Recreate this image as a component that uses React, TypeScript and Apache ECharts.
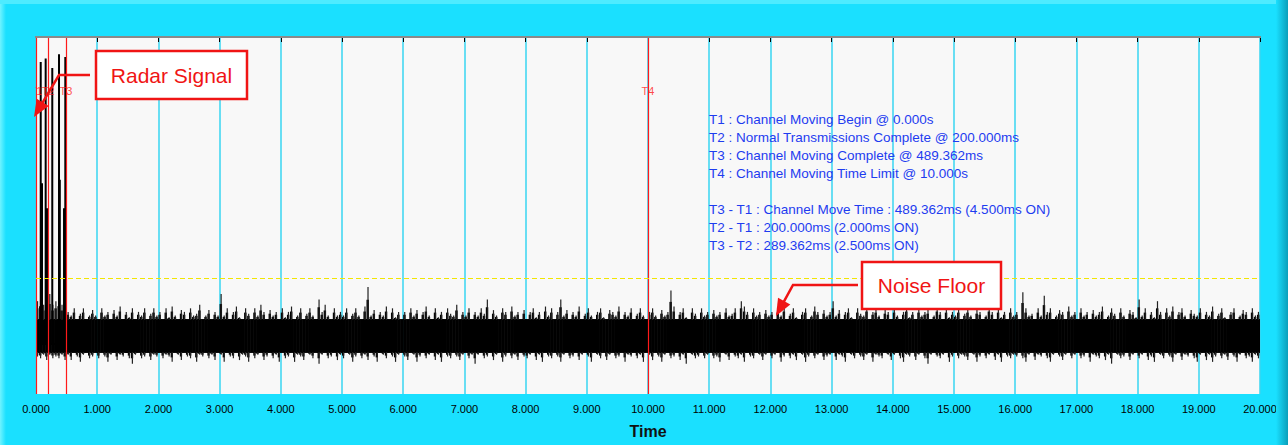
import React, { useEffect, useRef } from "react";
import * as echarts from "echarts";

// Trace window: 0 .. 20 s, amplitude in dBm
const X_MIN = 0;
const X_MAX = 20;
const Y_MIN = -100;
const Y_MAX = 0;

// Event markers
const markerNames = ["T1", "T2", "T3", "T4"];
const markerTimes = [0, 0.2, 0.489362, 10];
const markerLabelLevel = -15;

// Detection threshold (dashed yellow)
const thresholdLevel = -67.5;

// Radar bursts at the start of the capture
const pulseTimes = [0.077, 0.098, 0.158, 0.188, 0.266, 0.376, 0.389, 0.458, 0.479];
const pulsePeaks = [-7, -41, -6, -48, -8.7, -4.8, -40, -48, -5.6];
const pulseBase = -86;

// Dense part of the noise floor
const noiseBodyTop = -79;
const noiseBodyBottom = -88.5;

// Noise floor peaks, one sample every 50 ms
const NOISE_STEP = 0.05;
const noiseTop = [
  -74, -73, -75, -74, -72, -75, -74, -73, -75, -74, -77, -78, -76, -79, -77.5, -76, -79, -78, -76.5, -78,
  -79, -76, -78, -77, -80, -76.5, -78, -75.5, -79, -77, -78.5, -76, -79.5, -77, -78, -76, -80, -77.5, -76, -78,
  -77, -79, -76, -78.5, -75.5, -78, -80, -76.5, -77, -79, -76, -78, -77.5, -75, -79, -78, -76.5, -79.5, -77, -78,
  -72, -78, -76, -79, -77, -75.5, -78.5, -80, -76, -77.5, -79, -76, -78, -75, -77, -79.5, -76.5, -78, -77, -79,
  -76, -78.5, -77, -75.5, -79, -78, -76, -80, -77.5, -76, -78, -79, -73.5, -77, -75, -78, -79.5, -76, -78, -77,
  -78, -76, -79, -77.5, -76, -78, -80, -75.5, -70, -78, -76.5, -79, -77, -78, -75.5, -79, -76, -78.5, -77, -79.5,
  -77, -79, -76, -78, -76.5, -79.5, -77, -75.5, -78, -80, -76, -78.5, -77, -79, -76, -77.5, -78, -75, -79, -77,
  -78, -76, -79.5, -77, -78, -76, -77.5, -73.5, -79, -76.5, -78, -80, -76, -77, -79, -75.5, -78, -77, -79, -76.5,
  -79, -77, -76, -78.5, -77, -79, -75.5, -78, -76, -80, -77, -73.5, -78, -76.5, -79, -77, -78, -75.5, -79, -77.5,
  -76, -78, -79.5, -77, -76, -78.5, -79, -76.5, -77, -78, -75.5, -79, -77, -78, -76, -79.5, -77.5, -76, -78, -79,
  -77, -76, -78, -79, -76.5, -78, -77, -71, -75.5, -79, -77, -76, -78.5, -80, -76, -77.5, -79, -76, -78, -77,
  -79, -76.5, -78, -77, -79.5, -76, -78, -77.5, -76, -79, -74, -75.5, -77, -79, -76, -78, -77, -80, -76.5, -78,
  -77, -79, -76, -78, -75.5, -79, -77.5, -76, -78.5, -80, -77, -76, -79, -78, -75.5, -77, -79, -76.5, -78, -77,
  -74, -78, -76.5, -79, -77, -76, -78.5, -79.5, -76, -77.5, -78, -75.5, -79, -77, -76, -78, -80, -76.5, -77, -79,
  -76, -78, -79, -77, -75.5, -78.5, -77, -79.5, -76, -78, -77, -76.5, -79, -78, -75.5, -77, -79, -76, -78.5, -77,
  -78, -76, -79, -77.5, -76, -78, -80, -76.5, -77, -79, -78, -75.5, -77, -79, -76, -78.5, -77, -79.5, -76, -78,
  -77, -79, -71.5, -76, -78, -77.5, -79, -76, -78, -72.5, -77, -76, -79.5, -78, -76.5, -77, -79, -75.5, -78, -77,
  -79, -76, -78, -77, -79.5, -76.5, -78, -77, -75.5, -79, -78, -76, -77.5, -79, -76, -78, -80, -76.5, -77, -78.5,
  -73.5, -78, -76, -79, -77, -78.5, -74, -77, -79, -76, -78, -75.5, -79.5, -77, -76, -78, -79, -76.5, -77.5, -78,
  -76, -79, -77, -78, -75.5, -79, -77.5, -76, -78.5, -80, -77, -76, -79, -78, -76.5, -77, -79.5, -76, -78, -77,
];
const noiseBottom = [
  -89.5, -90, -89, -90.5, -89, -90, -89.5, -90, -89, -90.5, -89, -90.5, -88.5, -89.5, -91, -89, -88.5, -90, -89.5, -88.5,
  -90, -88.5, -89.5, -91, -89, -88, -90.5, -89, -89.5, -88.5, -90, -91.5, -89, -88.5, -90, -89.5, -88, -90.5, -89, -89.5,
  -88.5, -90, -89, -89.5, -91, -88.5, -89, -90.5, -88, -89.5, -90, -88.5, -91, -89, -89.5, -88.5, -90, -89, -90.5, -88.5,
  -89, -91, -88.5, -89.5, -90, -88, -90.5, -89, -89.5, -91, -88.5, -90, -89, -88.5, -90.5, -89.5, -88, -90, -89, -91,
  -88.5, -90, -89.5, -88, -91, -89, -89.5, -90.5, -88.5, -89, -90, -88.5, -91.5, -89, -88.5, -90, -89.5, -88, -90.5, -89,
  -90, -88.5, -89, -91, -89.5, -88, -90, -89, -90.5, -88.5, -89.5, -91, -88.5, -89, -90, -88.5, -89.5, -91, -89, -88.5,
  -89.5, -90.5, -88.5, -89, -91, -89.5, -88, -90, -89, -88.5, -90.5, -89, -91, -88.5, -89.5, -90, -88, -89.5, -90.5, -89,
  -88.5, -90, -89, -91.5, -89, -88.5, -90, -89.5, -88, -90.5, -89, -88.5, -91, -89.5, -88.5, -90, -89, -90.5, -88.5, -89.5,
  -90, -89, -88.5, -90.5, -89, -91, -88.5, -89.5, -90, -88, -89.5, -91, -89, -88.5, -90, -89.5, -88.5, -90.5, -89, -88.5,
  -89.5, -91, -88.5, -89, -90, -88.5, -90.5, -89, -88, -90, -89.5, -88.5, -91, -89, -89.5, -88.5, -90, -89, -91, -88.5,
  -89, -90.5, -88.5, -89.5, -91, -89, -88, -90, -89.5, -88.5, -90.5, -89, -91.5, -88.5, -89, -90, -89.5, -88.5, -90, -89,
  -88.5, -90, -89.5, -91, -88.5, -89, -90.5, -88, -89.5, -90, -89, -91, -88.5, -89.5, -90, -88.5, -89, -90.5, -89, -88.5,
  -90, -89, -88.5, -91, -89.5, -88, -90, -89, -90.5, -88.5, -89, -91, -89.5, -88.5, -90, -89, -88, -90.5, -89.5, -89,
  -88.5, -90.5, -89, -89.5, -91, -88.5, -89, -90, -88, -89.5, -90.5, -89, -88.5, -91, -89, -89.5, -90, -88.5, -89, -90.5,
  -89, -88.5, -90, -91, -89, -89.5, -88, -90.5, -89, -88.5, -90, -91.5, -89, -88.5, -89.5, -90, -89, -88.5, -91, -89.5,
  -88.5, -90, -89, -89.5, -90.5, -88, -89, -91, -89.5, -88.5, -90, -89, -88.5, -90.5, -89, -91, -88.5, -89.5, -90, -89,
  -89.5, -88.5, -90, -91, -89, -88.5, -90.5, -89, -89.5, -88, -90, -91, -89, -88.5, -89.5, -90.5, -89, -88.5, -90, -89,
  -88.5, -90, -89.5, -88, -91, -89, -89.5, -90, -88.5, -90.5, -89, -91.5, -88.5, -89, -90, -89.5, -88, -90.5, -89, -88.5,
  -90, -89, -88.5, -90.5, -89.5, -91, -88.5, -89, -90, -88.5, -89.5, -91, -89, -88, -90.5, -89, -89.5, -88.5, -90, -91,
  -89, -88.5, -90.5, -89, -91, -89.5, -88, -90, -89, -90.5, -88.5, -89.5, -91, -89, -88.5, -90, -89.5, -91, -89, -90,
];

// Summary block drawn in the upper right of the plot
const summaryLines = [
  "T1 : Channel Moving Begin @ 0.000s",
  "T2 : Normal Transmissions Complete @ 200.000ms",
  "T3 : Channel Moving Complete @ 489.362ms",
  "T4 : Channel Moving Time Limit @ 10.000s",
  "",
  "T3 - T1 : Channel Move Time : 489.362ms (4.500ms ON)",
  "T2 - T1 : 200.000ms (2.000ms ON)",
  "T3 - T2 : 289.362ms (2.500ms ON)",
];

const FONT = "'Liberation Sans', Arial, sans-serif";
const FRAME = "#1ae0ff";
const CALLOUT_RED = "#f01414";

function callout(
  box: { x: number; y: number; w: number; h: number },
  text: string,
  path: number[][],
) {
  const tip = path[path.length - 1];
  const prev = path[path.length - 2];
  const dx = tip[0] - prev[0];
  const dy = tip[1] - prev[1];
  const len = Math.hypot(dx, dy);
  const ux = dx / len;
  const uy = dy / len;
  const headLen = 17;
  const headHalf = 7;
  const bx = tip[0] - ux * headLen;
  const by = tip[1] - uy * headLen;
  const shaft = path.slice(0, -1).concat([[bx + ux * 2, by + uy * 2]]);
  return [
    {
      type: "rect",
      z: 120,
      shape: { x: box.x, y: box.y, width: box.w, height: box.h },
      style: { fill: "#ffffff", stroke: CALLOUT_RED, lineWidth: 2.5 },
    },
    {
      type: "text",
      z: 121,
      x: box.x + box.w / 2,
      y: box.y + box.h / 2,
      style: {
        text,
        fill: CALLOUT_RED,
        font: `21px ${FONT}`,
        align: "center",
        verticalAlign: "middle",
      },
    },
    {
      type: "polyline",
      z: 120,
      shape: { points: shaft },
      style: { stroke: CALLOUT_RED, lineWidth: 2.5, fill: null },
    },
    {
      type: "polygon",
      z: 120,
      shape: {
        points: [
          tip,
          [bx - uy * headHalf, by + ux * headHalf],
          [bx + uy * headHalf, by - ux * headHalf],
        ],
      },
      style: { fill: CALLOUT_RED },
    },
  ];
}

export default function App() {
  const ref = useRef<HTMLDivElement>(null);

  useEffect(() => {
    document.body.style.margin = "0";
    if (!ref.current) return;
    const chart = echarts.init(ref.current, undefined, { renderer: "svg" });

    const n = Math.min(noiseTop.length, noiseBottom.length);
    const noiseData: number[][] = [];
    for (let i = 0; i < n; i++) {
      noiseData.push([i * NOISE_STEP, noiseBottom[i], noiseTop[i]]);
    }

    const pulseData: number[][] = [];
    pulseTimes.forEach((t, i) => {
      pulseData.push([t, pulseBase], [t, pulsePeaks[i]], [t, pulseBase]);
    });

    chart.setOption({
      animation: false,
      backgroundColor: FRAME,
      grid: {
        left: 36,
        right: 28,
        top: 37,
        bottom: 51,
        show: true,
        backgroundColor: "#f8f8f8",
        borderWidth: 0,
      },
      xAxis: {
        type: "value",
        min: X_MIN,
        max: X_MAX,
        interval: 1,
        axisLine: { show: false },
        axisTick: { show: true, length: 5, lineStyle: { color: "#000", width: 1 } },
        axisLabel: {
          formatter: (v: number) => v.toFixed(3),
          fontSize: 11,
          color: "#000",
          fontFamily: FONT,
          margin: 9,
        },
        splitLine: { show: true, lineStyle: { color: "#38d6f2", width: 1.5 } },
        name: "Time",
        nameLocation: "middle",
        nameGap: 29,
        nameTextStyle: { fontSize: 16, fontWeight: "bold", color: "#111", fontFamily: FONT },
      },
      yAxis: { type: "value", min: Y_MIN, max: Y_MAX, show: false },
      series: [
        {
          type: "custom",
          name: "Noise",
          clip: true,
          z: 3,
          data: noiseData,
          encode: { x: 0, y: [1, 2] },
          // each sample: a solid slab for the dense floor, a ragged shoulder and a thin peak
          renderItem: (_params: any, api: any) => {
            const t = api.value(0);
            const lo = api.value(1);
            const hi = api.value(2);
            const left = api.coord([t, noiseBodyTop]);
            const right = api.coord([t + NOISE_STEP, noiseBodyBottom]);
            const w = right[0] - left[0];
            const mid = left[0] + w / 2;
            const peakY = api.coord([t, hi])[1];
            const troughY = api.coord([t, lo])[1];
            const children: any[] = [
              {
                type: "rect",
                shape: { x: left[0], y: left[1], width: w + 0.6, height: right[1] - left[1] },
                style: { fill: "#000" },
              },
            ];
            if (peakY < left[1]) {
              const shoulder = left[1] - (left[1] - peakY) * 0.6;
              children.push(
                {
                  type: "rect",
                  shape: { x: left[0], y: shoulder, width: w * 0.8, height: left[1] - shoulder + 1 },
                  style: { fill: "#000" },
                },
                {
                  type: "rect",
                  shape: { x: mid - 0.6, y: peakY, width: 1.2, height: left[1] - peakY + 1 },
                  style: { fill: "#222" },
                },
              );
            }
            if (troughY > right[1]) {
              const shoulder = right[1] + (troughY - right[1]) * 0.5;
              children.push(
                {
                  type: "rect",
                  shape: { x: left[0], y: right[1] - 1, width: w * 0.75, height: shoulder - right[1] + 1 },
                  style: { fill: "#000" },
                },
                {
                  type: "rect",
                  shape: { x: mid - 0.6, y: right[1] - 1, width: 1.2, height: troughY - right[1] + 1 },
                  style: { fill: "#222" },
                },
              );
            }
            return { type: "group", children };
          },
        },
        {
          type: "line",
          name: "Radar",
          z: 4,
          symbol: "none",
          data: pulseData,
          lineStyle: { color: "#000", width: 2 },
          markLine: {
            silent: true,
            symbol: ["none", "none"],
            label: { show: false },
            lineStyle: { color: "#ff1a1a", width: 1.2, type: "solid" },
            data: [
              ...markerTimes.map((t) => ({ xAxis: t })),
              {
                yAxis: thresholdLevel,
                lineStyle: { color: "#f2e600", width: 1.2, type: [5, 3] },
              },
            ],
          },
        },
        {
          type: "scatter",
          name: "Markers",
          z: 5,
          symbolSize: 1,
          itemStyle: { color: "rgba(0,0,0,0)" },
          data: markerTimes.map((t, i) => [t, markerLabelLevel, markerNames[i]]),
          label: {
            show: true,
            position: "inside",
            formatter: (p: any) => p.data[2],
            color: "#ff1a1a",
            fontSize: 11,
            fontFamily: FONT,
          },
        },
      ],
      graphic: [
        // frame strip left of the plot keeps marker text inside the plot
        {
          type: "rect",
          z: 100,
          shape: { x: 0, y: 37, width: 35.3, height: 357 },
          style: { fill: FRAME },
        },
        {
          type: "rect",
          z: 101,
          shape: { x: 0, y: 0, width: 6, height: 445 },
          style: {
            fill: new echarts.graphic.LinearGradient(0, 0, 1, 0, [
              { offset: 0, color: "#6ff3ff" },
              { offset: 1, color: FRAME },
            ]),
          },
        },
        {
          type: "rect",
          z: 101,
          shape: { x: 0, y: 0, width: 1288, height: 4 },
          style: { fill: "#4eebff" },
        },
        {
          type: "rect",
          z: 101,
          shape: { x: 1276, y: 0, width: 12, height: 445 },
          style: {
            fill: new echarts.graphic.LinearGradient(0, 0, 1, 0, [
              { offset: 0, color: FRAME },
              { offset: 1, color: "#0a9fba" },
            ]),
          },
        },
        {
          type: "line",
          z: 102,
          shape: { x1: 35, y1: 37, x2: 1261, y2: 37 },
          style: { stroke: "#8a8a8a", lineWidth: 2 },
        },
        {
          type: "text",
          z: 110,
          x: 709,
          y: 110,
          style: {
            text: summaryLines.join("\n"),
            fill: "#1e3cf0",
            font: `13.5px ${FONT}`,
            lineHeight: 18,
            align: "left",
            verticalAlign: "top",
          },
        },
        ...callout({ x: 96, y: 51, w: 151, h: 48 }, "Radar Signal", [
          [90, 75],
          [59, 75],
          [34, 117],
        ]),
        ...callout({ x: 862, y: 262, w: 139, h: 47 }, "Noise Floor", [
          [858, 285],
          [793, 285],
          [776, 316],
        ]),
      ],
    });

    return () => chart.dispose();
  }, []);

  return <div ref={ref} style={{ width: 1288, height: 445 }} />;
}
